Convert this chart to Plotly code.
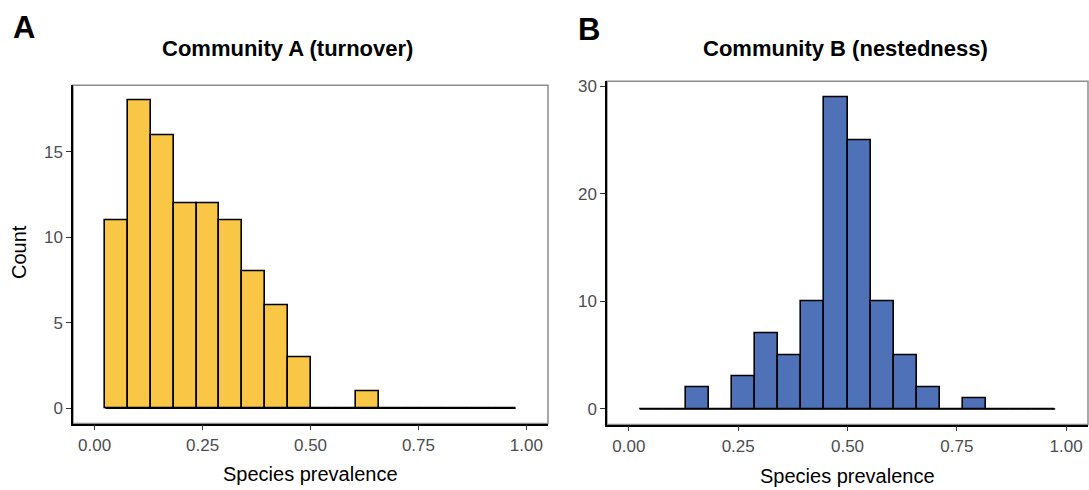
import numpy as np
import plotly.graph_objects as go

# ---- data ----
bin_start = 0.025
bin_end = 0.975
n_bins = 18
counts_a = [11, 18, 16, 12, 12, 11, 8, 6, 3, 0, 0, 1, 0, 0, 0, 0, 0, 0]
counts_b = [0, 0, 2, 0, 3, 7, 5, 10, 29, 25, 10, 5, 2, 0, 1, 0, 0, 0]
title_a = "Community A (turnover)"
title_b = "Community B (nestedness)"
x_label = "Species prevalence"
y_label = "Count"
x_ticks = [0, 0.25, 0.5, 0.75, 1.0]
x_ticktext = ["0.00", "0.25", "0.50", "0.75", "1.00"]
y_ticks_a = [0, 5, 10, 15]
y_ticks_b = [0, 10, 20, 30]

edges = np.linspace(bin_start, bin_end, n_bins + 1)
width = edges[1] - edges[0]
centers = (edges[:-1] + edges[1:]) / 2

W, H = 1089, 490
FONT = "Liberation Sans, Arial, sans-serif"
YELLOW = "#F9C646"
BLUE = "#4F71B7"

def px(x):
    return x / W

def py(y):
    return 1 - y / H

fig = go.Figure()

fig.add_trace(go.Bar(x=centers, y=counts_a, width=width, marker=dict(color=YELLOW, line=dict(color="black", width=1.6)),
                     xaxis="x", yaxis="y", showlegend=False, hoverinfo="skip"))
fig.add_trace(go.Scatter(x=[edges[0], edges[-1]], y=[0, 0], mode="lines", line=dict(color="black", width=1.6),
                         xaxis="x", yaxis="y", showlegend=False, hoverinfo="skip"))
fig.add_trace(go.Bar(x=centers, y=counts_b, width=width, marker=dict(color=BLUE, line=dict(color="black", width=1.6)),
                     xaxis="x2", yaxis="y2", showlegend=False, hoverinfo="skip"))
fig.add_trace(go.Scatter(x=[edges[0], edges[-1]], y=[0, 0], mode="lines", line=dict(color="black", width=1.6),
                         xaxis="x2", yaxis="y2", showlegend=False, hoverinfo="skip"))

axis_common = dict(showgrid=False, zeroline=False, showline=True, linecolor="black", linewidth=1.5,
                   ticks="outside", ticklen=5, tickwidth=1.3, tickcolor="#333333",
                   tickfont=dict(family=FONT, size=17, color="#4D4D4D"), fixedrange=True)

fig.update_layout(
    width=W, height=H,
    margin=dict(l=0, r=0, t=0, b=0),
    paper_bgcolor="white", plot_bgcolor="white",
    bargap=0,
    xaxis=dict(domain=[px(73), px(548)], range=[-0.05, 1.05], tickvals=x_ticks, ticktext=x_ticktext,
               anchor="y", **axis_common),
    yaxis=dict(domain=[py(423), py(82)], range=[-0.9, 18.9], tickvals=y_ticks_a, anchor="x", **axis_common),
    xaxis2=dict(domain=[px(607), px(1088)], range=[-0.05, 1.05], tickvals=x_ticks, ticktext=x_ticktext,
                anchor="y2", **axis_common),
    yaxis2=dict(domain=[py(424), py(78)], range=[-1.45, 30.45], tickvals=y_ticks_b, anchor="x2", **axis_common),
)

# grey panel borders (top/right)
for xr, yr in [("x", "y"), ("x2", "y2")]:
    fig.add_shape(type="rect", xref=f"{xr} domain", yref=f"{yr} domain", x0=0, x1=1, y0=0, y1=1,
                  line=dict(color="#8C8C8C", width=1.5), fillcolor="rgba(0,0,0,0)", layer="below")

ann = []
ann.append(dict(text=f"<b>{title_a}</b>", x=px(287), y=py(45), font=dict(family=FONT, size=22, color="black")))
ann.append(dict(text=f"<b>{title_b}</b>", x=px(845), y=py(45), font=dict(family=FONT, size=22, color="black")))
ann.append(dict(text="<b>A</b>", x=px(24), y=py(24), font=dict(family=FONT, size=31, color="black")))
ann.append(dict(text="<b>B</b>", x=px(589), y=py(26), font=dict(family=FONT, size=31, color="black")))
ann.append(dict(text=x_label, x=px(310), y=py(474), font=dict(family=FONT, size=20, color="black")))
ann.append(dict(text=x_label, x=px(847), y=py(476), font=dict(family=FONT, size=20, color="black")))
ann.append(dict(text=y_label, x=px(19), y=py(250), textangle=-90, font=dict(family=FONT, size=20, color="black")))
for a in ann:
    a.update(xref="paper", yref="paper", showarrow=False, xanchor="center", yanchor="middle")
fig.update_layout(annotations=ann)

fig.write_html("out.html")
